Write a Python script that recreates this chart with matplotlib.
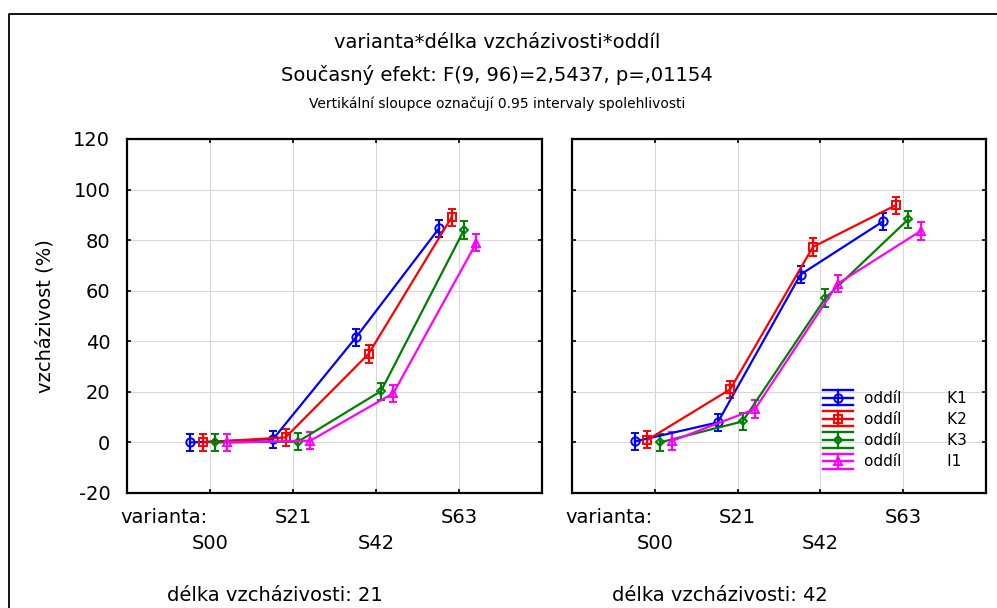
import numpy as np
import matplotlib; matplotlib.use("Agg")
import matplotlib.pyplot as plt
from matplotlib.lines import Line2D
from matplotlib.legend_handler import HandlerBase

plt.rcParams.update({"font.family": ["DejaVu Sans"], "font.size": 14, "axes.unicode_minus": False})

# ---------------- data ----------------
varianta = ["S00", "S21", "S42", "S63"]
groups = ["K1", "K2", "K3", "I1"]
delka = ["21", "42"]
# mean emergence (%) per group, for delka 21 and delka 42
d21_K1 = [0.0, 1.3, 41.6, 84.7]
d21_K2 = [0.0, 2.0, 35.0, 89.0]
d21_K3 = [0.0, 0.3, 20.3, 84.0]
d21_I1 = [0.0, 0.7, 19.5, 79.0]
d42_K1 = [0.4, 7.9, 66.4, 87.5]
d42_K2 = [1.0, 21.0, 77.3, 93.8]
d42_K3 = [0.0, 8.3, 57.1, 88.2]
d42_I1 = [0.6, 13.2, 62.8, 83.6]
ci_half = 3.4  # half-width of 0.95 interval
yticks = [-20, 0, 20, 40, 60, 80, 100, 120]

COL = {"K1": "#0000ff", "K2": "#ff0000", "K3": "#008000", "I1": "#ff00ff"}
MRK = {"K1": "o", "K2": "s", "K3": "D", "I1": "^"}
MSZ = {"K1": 6, "K2": 6, "K3": 4.5, "I1": 6}
OFF = {"K1": -0.24, "K2": -0.09, "K3": 0.06, "I1": 0.21}
DATA = {"21": dict(K1=d21_K1, K2=d21_K2, K3=d21_K3, I1=d21_I1),
        "42": dict(K1=d42_K1, K2=d42_K2, K3=d42_K3, I1=d42_I1)}


class HandlerErr(HandlerBase):
    """Statistica-like legend key: line+marker with whisker lines above/below."""
    def create_artists(self, legend, orig, xd, yd, w, h, fs, trans):
        c = orig.get_color(); ym = h / 2 - yd
        arts = []
        for yy in (ym - h * 0.55, ym, ym + h * 0.55):
            arts.append(Line2D([-xd, -xd + w], [yy, yy], color=c, lw=1.7, transform=trans))
        arts.append(Line2D([-xd + w / 2], [ym], marker=orig.get_marker(), ms=orig.get_markersize(),
                           mfc="none", mec=c, mew=1.4, ls="none", transform=trans))
        arts.append(Line2D([-xd + w / 2] * 2, [ym - h * 0.55, ym + h * 0.55], color=c, lw=1.6, transform=trans))
        return arts


W, H = 997, 608
fig = plt.figure(figsize=(W / 100, H / 100), dpi=100)
boxes = [(127, 542), (572, 986)]
top, bot = 139, 493
axes = []
x = np.arange(1, 5)
for i, (d, (x0, x1)) in enumerate(zip(delka, boxes)):
    ax = fig.add_axes([x0 / W, 1 - bot / H, (x1 - x0) / W, (bot - top) / H])
    axes.append(ax)
    for g in groups:
        ax.errorbar(x + OFF[g], DATA[d][g], yerr=ci_half, color=COL[g], marker=MRK[g], ms=MSZ[g],
                    mfc="none", mew=1.4, lw=1.6, elinewidth=1.6, capsize=3, capthick=1.6, zorder=3)
    ax.set_xlim(0, 5); ax.set_ylim(-20, 120)
    ax.set_xticks(x); ax.set_yticks(yticks)
    ax.grid(True, color="#d9d9d9", lw=0.8, zorder=0)
    ax.tick_params(direction="in", length=3, width=1.2, top=True, right=True, labelbottom=False,
                   labelleft=(i == 0), pad=12, labelsize=14)
    for s in ax.spines.values():
        s.set_linewidth(1.6)
    # staggered category labels
    tr = ax.get_xaxis_transform()
    ax.text(-0.08, -0.07, "varianta:", transform=tr, ha="left", va="center")
    for k, lab in enumerate(varianta):
        ax.text(x[k], -0.07 if k % 2 else -0.143, lab, transform=tr, ha="center", va="center")
    ax.text(0.357, -0.29, "délka vzcházivosti: " + d, transform=ax.transAxes, ha="center", va="center")

fig.text(45 / W, 1 - 316 / H, "vzcházivost (%)", rotation=90, ha="center", va="center")

hs = [Line2D([], [], color=COL[g], marker=MRK[g], ms=MSZ[g]) for g in groups]
labs = ["oddíl" + "\u2002" * 6 + g for g in groups]
axes[1].legend(hs, labs, handler_map={Line2D: HandlerErr()}, frameon=False, loc="lower left",
               bbox_to_anchor=((815 - 572) / 414, 0.045), fontsize=11, handlelength=2.0,
               handleheight=1.0, labelspacing=0.4, handletextpad=0.7, borderpad=0)

fig.text(497 / W, 1 - 43 / H, "varianta*délka vzcházivosti*oddíl", ha="center", va="center")
fig.text(497 / W, 1 - 75 / H, "Současný efekt: F(9, 96)=2,5437, p=,01154", ha="center", va="center")
fig.text(497 / W, 1 - 104 / H, "Vertikální sloupce označují 0.95 intervaly spolehlivosti", ha="center",
         va="center", fontsize=10)

# outer frame (right and bottom edges fall outside the picture)
fig.add_artist(Line2D([9 / W, 9 / W, 1.01], [-0.01, 1 - 14 / H, 1 - 14 / H], color="black", lw=1.3,
                      transform=fig.transFigure))
fig.savefig("out.png", dpi=100)
